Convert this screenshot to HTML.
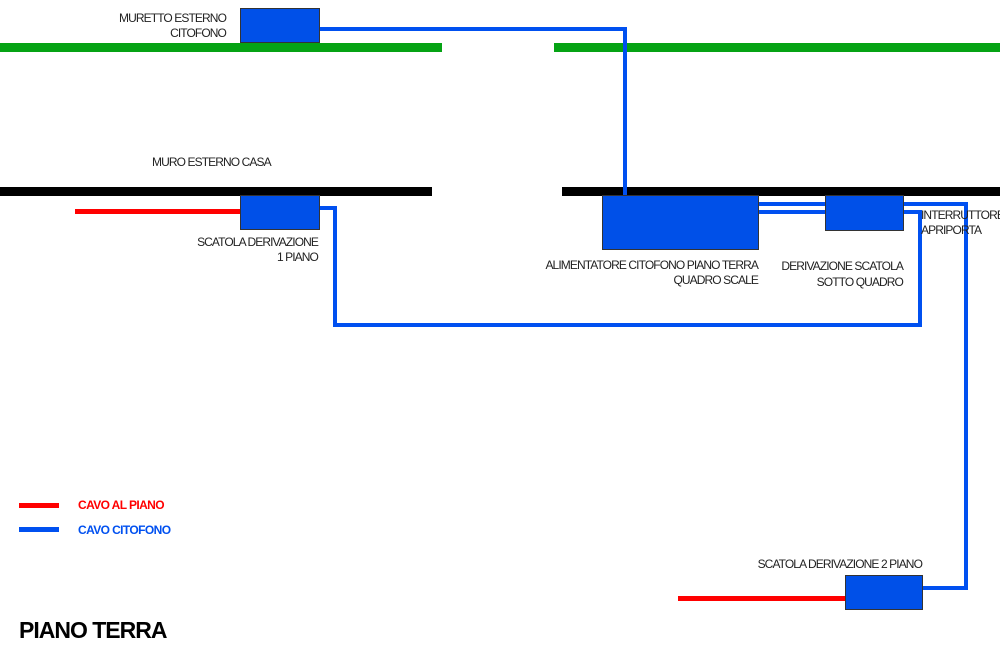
<!DOCTYPE html>
<html><head><style>
body{margin:0;background:#fff;}
svg text{font-family:"Liberation Sans",sans-serif;font-size:12px;fill:#222;letter-spacing:-0.9px}
</style></head><body>
<svg width="1000" height="655" viewBox="0 0 1000 655" xmlns="http://www.w3.org/2000/svg">
<rect x="0" y="43" width="442" height="9" fill="#05a314"/>
<rect x="554" y="43" width="446" height="9" fill="#05a314"/>
<rect x="0" y="187" width="432" height="9" fill="#000"/>
<rect x="562" y="187" width="438" height="9" fill="#000"/>
<g fill="none" stroke="#0050f0" stroke-width="4">
<polyline points="319,29 625,29 625,196"/>
<polyline points="319,208 335,208 335,325 920,325 920,212 903,212"/>
<polyline points="903,204 966,204 966,588 922,588"/>
<line x1="758" y1="204" x2="825" y2="204"/>
<line x1="758" y1="212" x2="825" y2="212"/>
</g>
<rect x="75" y="209" width="166" height="5" fill="#ff0000"/>
<rect x="678" y="596" width="168" height="5" fill="#ff0000"/>
<g fill="#0050e8" stroke="#333" stroke-width="1">
<rect x="240.5" y="8.5" width="79" height="34"/>
<rect x="240.5" y="195.5" width="79" height="34"/>
<rect x="602.5" y="195.5" width="156" height="54"/>
<rect x="825.5" y="195.5" width="78" height="35"/>
<rect x="845.5" y="575.5" width="77" height="34"/>
</g>
<text x="226" y="22" text-anchor="end">MURETTO ESTERNO</text>
<text x="226" y="37" text-anchor="end">CITOFONO</text>
<text x="152" y="166">MURO ESTERNO CASA</text>
<text x="318" y="246" text-anchor="end">SCATOLA DERIVAZIONE</text>
<text x="318" y="261" text-anchor="end">1 PIANO</text>
<text x="758" y="269" text-anchor="end">ALIMENTATORE CITOFONO PIANO TERRA</text>
<text x="758" y="284" text-anchor="end">QUADRO SCALE</text>
<text x="903" y="270" text-anchor="end">DERIVAZIONE SCATOLA</text>
<text x="903" y="286" text-anchor="end">SOTTO QUADRO</text>
<text x="921" y="219">INTERRUTTORE</text>
<text x="921" y="234">APRIPORTA</text>
<text x="922" y="568" text-anchor="end">SCATOLA DERIVAZIONE 2 PIANO</text>
<rect x="19" y="503" width="40" height="5" fill="#ff0000"/>
<rect x="19" y="527" width="40" height="5" fill="#0050f0"/>
<text x="78" y="509" style="fill:#ff0000;font-weight:bold;letter-spacing:-0.6px">CAVO AL PIANO</text>
<text x="78" y="534" style="fill:#0050f0;font-weight:bold;letter-spacing:-0.6px">CAVO CITOFONO</text>
<text x="19" y="638" style="font-size:23px;font-weight:bold;fill:#000;letter-spacing:-1px">PIANO TERRA</text>
</svg>
</body></html>
